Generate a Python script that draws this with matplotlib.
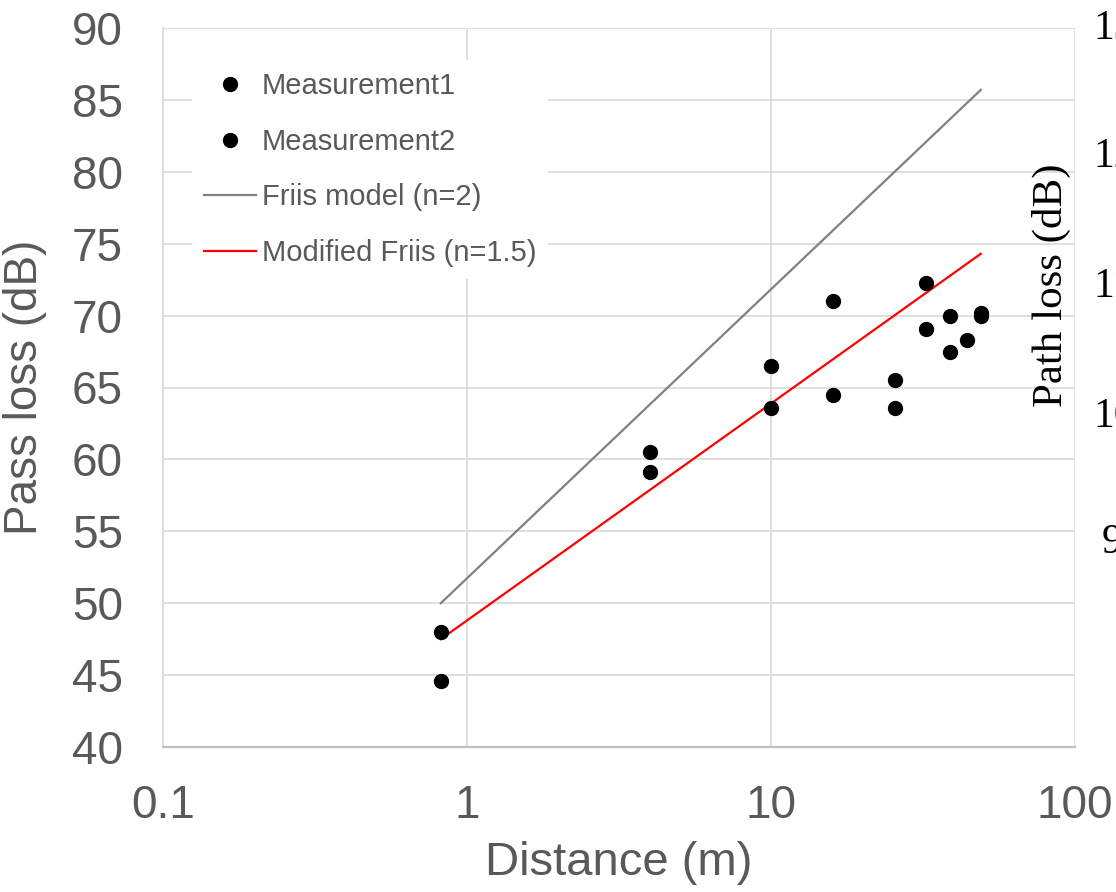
import numpy as np
import matplotlib
matplotlib.use("Agg")
import matplotlib.pyplot as plt

plt.rcParams['font.family'] = ['Liberation Sans', 'DejaVu Sans']

# measured points (distance in m, pass loss in dB)
dist1 = [0.82, 4.0, 10.0, 16.0, 25.6, 32.4, 38.8, 49.0]
loss1 = [48.0, 60.5, 66.5, 71.0, 65.5, 72.3, 70.0, 70.2]
dist2 = [0.82, 4.0, 10.0, 16.0, 25.6, 32.4, 38.8, 44.1, 49.0]
loss2 = [44.6, 59.1, 63.6, 64.5, 63.6, 69.1, 67.5, 68.3, 70.0]

# model lines
model_dist = [0.82, 49.0]
friis_loss = [50.0, 85.7]
mod_friis_loss = [47.5, 74.3]

# right axis leftovers (cut off by the figure edge)
right_ticks = ["130", "120", "110", "100", "90"]

grey_txt = '#595959'
grid_c = '#d9d9d9'

fig = plt.figure(figsize=(11.16, 8.92), dpi=100)
W, H = 1116, 892
ax = fig.add_axes([163 / W, 1 - 747 / H, 912 / W, 719 / H])

ax.plot(model_dist, friis_loss, color='#808080', lw=1.6, label='Friis model (n=2)', zorder=3)
ax.plot(model_dist, mod_friis_loss, color='#ff0000', lw=1.6, label='Modified Friis (n=1.5)', zorder=3)
h1, = ax.plot(dist1, loss1, 'o', color='black', ms=10, label='Measurement1', zorder=4)
h2, = ax.plot(dist2, loss2, 'o', color='black', ms=10, label='Measurement2', zorder=4)

ax.set_xscale('log')
ax.set_xlim(0.1, 100)
ax.set_ylim(40, 90)
ax.set_xticks([0.1, 1, 10, 100])
ax.set_xticklabels(['0.1', '1', '10', '100'])
ax.set_yticks(np.arange(40, 91, 5))
ax.xaxis.set_minor_locator(matplotlib.ticker.NullLocator())
ax.tick_params(axis='both', length=0, labelsize=33, labelcolor=grey_txt)
ax.tick_params(axis='y', pad=29)
ax.tick_params(axis='x', pad=27)

ax.grid(True, which='major', color=grid_c, lw=1.2, zorder=0)
ax.set_axisbelow(True)
for s in ['top', 'right']:
    ax.spines[s].set_visible(False)
ax.spines['left'].set_color(grid_c)
ax.spines['left'].set_linewidth(1.2)
ax.spines['bottom'].set_color('#bfbfbf')
ax.spines['bottom'].set_linewidth(1.6)

ax.set_xlabel('Distance (m)', fontsize=34, color=grey_txt)
ax.set_ylabel('Pass loss (dB)', fontsize=33, color=grey_txt)
ax.xaxis.set_label_coords(0.5, -0.131)
ax.yaxis.set_label_coords(-0.127, 0.5)

handles, labels = ax.get_legend_handles_labels()
order = [2, 3, 0, 1]
leg = ax.legend([handles[i] for i in order], [labels[i] for i in order],
                loc='upper left', bbox_to_anchor=(0.032, 0.955), fontsize=21,
                frameon=True, fancybox=False, edgecolor='none', framealpha=1,
                handlelength=1.78, handletextpad=0.2, labelspacing=0.95,
                borderpad=0.4, borderaxespad=0)
for t in leg.get_texts():
    t.set_color(grey_txt)

# secondary chart fragments at the right edge
fig.text(1051 / W, 1 - 285 / H, 'Path loss (dB)', rotation=90, ha='center', va='center',
         fontsize=31, family='Liberation Serif', color='black')
ys = [29, 157, 287, 417, 543]
for lab, yy in zip(right_ticks, ys):
    xx = 1093 if lab != "90" else 1102
    fig.text(xx / W, 1 - yy / H, lab, ha='left', va='center',
             fontsize=30, family='Liberation Serif', color='black')

fig.savefig('out.png', dpi=100)
